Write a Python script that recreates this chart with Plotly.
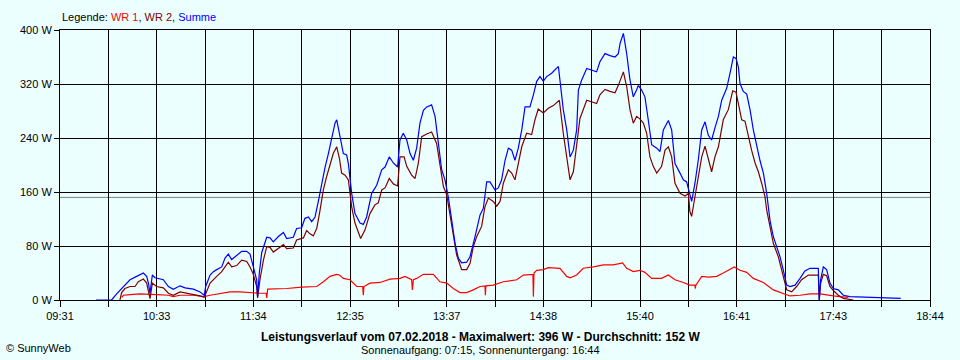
import plotly.graph_objects as go

# ---------------- data (minutes after midnight, watts) ----------------
x_start_min = 571   # 09:31
x_end_min = 1124    # 18:44
x_tick_labels = ["09:31", "", "10:33", "", "11:34", "", "12:35", "", "13:37", "",
                 "14:38", "", "15:40", "", "16:41", "", "17:43", "", "18:44"]
y_tick_values = [0, 80, 160, 240, 320, 400]
average_w = 152

wr1 = [(610.2,4),(611.3,7),(615.5,8),(621.9,9),(632.4,8),(639.9,7),(643.0,5),(647.3,7),(655.8,7),
       (662.7,5),(666.4,7),(672.7,10),(679.1,12),(685.4,12),(693.9,10),(698.1,10),(702.0,10),(702.4,3),
       (703.0,16),(706.6,16),(715.1,17),(724.6,19),(734.2,20),(738.4,27),(742.6,35),(746.9,38),(748.6,37),
       (751.1,32),(755.3,30),(759.6,20),(763.4,20),(763.8,7),(764.2,20),(768.0,25),(774.4,26),(780.8,31),
       (787.1,32),(790.3,35),(794.5,30),(795.0,15),(795.6,30),(797.7,32),(802.0,38),(808.3,38),(812.5,27),
       (816.8,25),(821.0,17),(825.3,11),(829.5,11),(833.7,15),(838.0,20),(841.1,21),(841.4,7),(841.7,21),
       (846.4,22),(852.8,27),(861.3,30),(865.5,37),(870.8,38),(871.6,38),(871.9,5),(872.3,40),(874.0,44),
       (878.2,45),(881.4,48),(888.8,47),(893.1,35),(895.2,33),(899.4,37),(903.6,47),(910.0,49),(916.4,52),
       (922.7,52),(928.6,55),(931.2,47),(935.4,42),(939.7,44),(942.8,41),(947.1,32),(953.4,32),(957.7,37),
       (961.9,30),(967.2,26),(971.4,22),(974.6,22),(974.8,17),(975.2,22),(978.9,35),(983.1,34),(988.4,35),
       (992.6,40),(996.9,45),(999.6,49),(1003.2,44),(1007.5,41),(1011.7,32),(1018.1,26),(1024.4,15),
       (1030.8,10),(1035.0,6),(1041.4,7),(1047.7,9),(1054.1,9),(1058.3,7),(1062.6,6),(1066.8,5),(1072.1,4)]

wr2 = [(609.1,0),(610.2,11),(612.3,17),(615.5,20),(618.7,20),(620.8,27),(624.0,31),(626.1,25),(628.2,2),
       (629.7,25),(632.4,20),(636.7,18),(639.9,10),(643.0,7),(647.3,12),(651.5,10),(655.8,9),(660.0,6),
       (662.7,4),(664.2,12),(666.4,25),(670.6,35),(673.8,42),(675.9,49),(678.0,56),(680.1,49),(683.3,51),
       (686.5,59),(689.7,57),(691.8,49),(693.9,38),(696.0,20),(696.6,3),(698.1,30),(700.3,59),(702.4,79),
       (704.5,78),(706.6,71),(709.8,76),(713.0,82),(715.1,76),(719.3,77),(721.4,89),(725.7,92),(727.8,103),
       (729.9,98),(732.0,95),(734.2,106),(736.3,133),(738.4,163),(740.5,183),(742.6,202),(744.7,217),
       (746.9,227),(748.6,210),(750.0,188),(752.2,185),(754.3,178),(756.4,138),(758.5,114),(762.1,91),
       (764.9,104),(768.0,128),(771.2,141),(773.3,144),(775.5,163),(777.6,166),(780.3,180),(782.9,172),
       (785.6,169),(787.1,212),(789.7,212),(791.4,198),(794.5,185),(796.7,180),(798.8,203),(800.9,242),
       (804.1,246),(807.2,249),(810.4,232),(812.5,198),(814.7,168),(816.8,156),(818.9,128),(821.0,94),
       (823.1,67),(826.3,45),(829.5,45),(831.6,54),(833.7,79),(835.9,94),(839.0,109),(841.1,138),(843.3,151),
       (846.4,146),(848.6,139),(850.7,146),(852.8,173),(856.0,193),(858.1,188),(860.2,178),(862.3,203),
       (864.5,227),(867.6,247),(870.8,245),(872.9,267),(875.0,283),(878.2,277),(881.4,284),(884.6,288),
       (888.4,296),(890.9,247),(893.1,212),(895.2,178),(897.3,190),(899.4,227),(901.5,269),(905.8,296),
       (910.0,293),(912.1,291),(914.2,304),(917.4,312),(920.6,309),(923.8,307),(925.9,318),(929.1,338),
       (931.2,316),(933.3,282),(935.4,262),(937.5,272),(939.7,268),(941.8,262),(943.9,247),(946.0,212),
       (948.1,198),(950.3,188),(953.4,198),(955.6,222),(957.7,227),(959.8,212),(961.9,173),(965.1,158),
       (968.3,154),(970.4,158),(971.4,131),(972.5,124),(974.6,153),(976.7,183),(978.9,212),(981.0,228),
       (983.1,208),(985.2,190),(987.3,212),(989.5,227),(992.6,267),(995.8,282),(998.6,310),(1000.7,308),
       (1002.2,291),(1004.3,267),(1006.4,265),(1008.5,242),(1010.6,222),(1012.8,203),(1014.9,190),
       (1017.0,173),(1019.1,153),(1020.2,133),(1022.3,109),(1024.4,84),(1027.6,64),(1030.8,35),(1032.9,15),
       (1036.1,12),(1039.2,20),(1042.4,30),(1046.7,37),(1053.0,37),(1053.6,0),(1054.5,25),(1056.2,38),
       (1058.3,36),(1060.4,20),(1062.6,14),(1065.7,7),(1068.9,2.5),(1075.3,0)]

summe = [(593.9,0),(603.8,0),(607.0,9),(610.2,17),(613.4,25),(615.5,30),(619.7,35),(624.0,40),(626.1,35),
         (627.2,25),(628.2,10),(629.7,37),(631.4,33),(636.7,30),(639.9,20),(643.0,16),(647.3,21),(650.5,18),
         (655.8,16),(660.0,12),(662.7,7),(663.6,20),(666.4,37),(668.5,42),(670.6,45),(673.8,49),(675.9,62),
         (678.0,68),(680.1,60),(683.3,66),(686.5,72),(689.7,72),(691.8,68),(693.9,49),(696.0,30),(696.6,5),
         (697.7,40),(699.2,70),(702.4,93),(704.5,92),(706.6,86),(709.8,94),(713.0,100),(715.1,91),(719.3,93),
         (721.4,106),(724.6,107),(726.7,121),(728.9,123),(731.0,116),(733.1,123),(735.2,146),(737.3,173),
         (739.5,197),(741.6,217),(743.7,240),(745.8,262),(746.9,267),(748.6,247),(751.1,217),(753.2,215),
         (754.3,202),(756.4,158),(758.5,128),(761.7,114),(763.8,112),(765.9,123),(769.1,158),(772.3,170),
         (775.5,193),(777.6,197),(780.3,212),(782.9,203),(785.6,197),(787.1,237),(789.2,247),(791.4,237),
         (793.5,217),(795.6,207),(797.7,225),(799.8,262),(802.0,281),(804.1,286),(807.2,289),(809.4,272),
         (811.5,232),(813.6,193),(815.7,178),(817.8,153),(820.0,118),(822.1,84),(824.2,62),(826.3,55),
         (829.5,56),(831.6,64),(834.8,94),(838.0,126),(840.1,136),(842.2,175),(844.3,175),(847.5,163),
         (849.6,166),(851.7,178),(853.9,207),(856.0,225),(858.1,222),(860.2,207),(862.3,225),(864.5,252),
         (866.6,286),(869.7,286),(871.9,304),(874.0,324),(876.1,331),(878.2,324),(880.3,331),(883.5,336),
         (887.8,346),(888.8,326),(890.9,282),(893.1,252),(895.2,212),(897.3,222),(899.4,252),(900.5,311),
         (902.6,326),(905.8,343),(910.0,340),(912.1,338),(914.2,353),(917.4,365),(920.6,362),(923.8,360),
         (925.9,365),(927.0,380),(929.1,395),(931.2,365),(933.3,326),(935.4,301),(937.5,311),(938.6,318),
         (940.7,311),(942.8,301),(944.9,267),(947.1,230),(950.3,225),(952.4,220),(954.5,252),(957.7,266),
         (959.8,252),(961.9,202),(965.1,188),(967.2,178),(969.3,175),(971.4,153),(972.5,146),(974.6,173),
         (976.7,207),(978.9,252),(981.0,264),(983.1,244),(985.2,237),(987.3,255),(989.5,272),(991.6,296),
         (994.8,314),(996.9,336),(999.0,360),(1000.7,358),(1002.2,345),(1003.2,321),(1005.3,309),(1007.5,305),
         (1009.6,282),(1011.7,252),(1013.8,227),(1015.9,207),(1018.1,188),(1020.2,158),(1022.3,118),
         (1024.4,94),(1026.5,79),(1028.7,64),(1030.8,44),(1032.9,22),(1035.0,20),(1038.2,22),(1041.4,32),
         (1044.5,43),(1047.7,47),(1053.0,47),(1053.6,0),(1054.5,30),(1056.2,49),(1058.3,45),(1060.4,25),
         (1062.6,17),(1065.7,15),(1068.9,7),(1073.1,5),(1088.0,4),(1096.5,3.5),(1105.4,2.5)]

series = [("WR 1", wr1, "#FF0000"), ("WR 2", wr2, "#800000"), ("Summe", summe, "#0000FF")]

# ---------------- figure ----------------
BG = "#EBFFFF"
FONT = "Liberation Sans, Arial, sans-serif"

fig = go.Figure()
for name, pts, col in series:
    fig.add_trace(go.Scatter(
        x=[p[0] for p in pts], y=[p[1] for p in pts], name=name, mode="lines",
        line=dict(color=col, width=1.2), hoverinfo="skip"))

n_int = len(x_tick_labels) - 1
x_ticks = [x_start_min + i * (x_end_min - x_start_min) / n_int for i in range(n_int + 1)]

fig.add_shape(type="line", xref="paper", x0=0, x1=1, yref="y", y0=average_w, y1=average_w,
              line=dict(color="#808080", width=1), layer="between")

fig.update_layout(
    width=960, height=360,
    margin=dict(l=60, r=30, t=30, b=60, pad=0),
    paper_bgcolor=BG, plot_bgcolor=BG,
    showlegend=False,
    hovermode=False,
    font=dict(family=FONT, size=11, color="black"),
    xaxis=dict(range=[x_start_min, x_end_min], tickmode="array", tickvals=x_ticks,
               ticktext=x_tick_labels, showgrid=True, gridcolor="black", gridwidth=1,
               zeroline=False, showline=True, mirror=True, linecolor="black", linewidth=1,
               ticks="outside", ticklen=6, tickcolor="black", tickfont=dict(size=11)),
    yaxis=dict(range=[0, 400], tickmode="array", tickvals=y_tick_values,
               ticktext=[f"{v} W" for v in y_tick_values], showgrid=True, gridcolor="black",
               gridwidth=1, zeroline=False, showline=True, mirror=True, linecolor="black",
               linewidth=1, ticks="outside", ticklen=5, tickcolor="black", tickfont=dict(size=11)),
)

legend_html = ("Legende: "
               + ", ".join(f"<span style='color:{c}'>{n}</span>" for n, _, c in series))
fig.add_annotation(text=legend_html, xref="paper", yref="paper", x=0, y=1,
                   xanchor="left", yanchor="middle", yshift=13, showarrow=False,
                   font=dict(size=11))
fig.add_annotation(text="<b>Leistungsverlauf vom 07.02.2018 - Maximalwert: 396 W - Durchschnitt: 152 W</b>",
                   xref="paper", yref="paper", x=0, y=0, xanchor="center", yanchor="middle",
                   xshift=420, yshift=-37, showarrow=False, font=dict(size=12))
fig.add_annotation(text="Sonnenaufgang: 07:15, Sonnenuntergang: 16:44",
                   xref="paper", yref="paper", x=0, y=0, xanchor="center", yanchor="middle",
                   xshift=420, yshift=-50, showarrow=False, font=dict(size=11))
fig.add_annotation(text="© SunnyWeb", xref="paper", yref="paper", x=0, y=0,
                   xanchor="left", yanchor="middle", xshift=-56, yshift=-48,
                   showarrow=False, font=dict(size=11))

fig.write_html("out.html",
               config={"displayModeBar": False, "staticPlot": True},
               post_script="document.body.style.margin='0';document.body.style.overflow='hidden';"
                           "document.body.style.background='" + BG + "';")
